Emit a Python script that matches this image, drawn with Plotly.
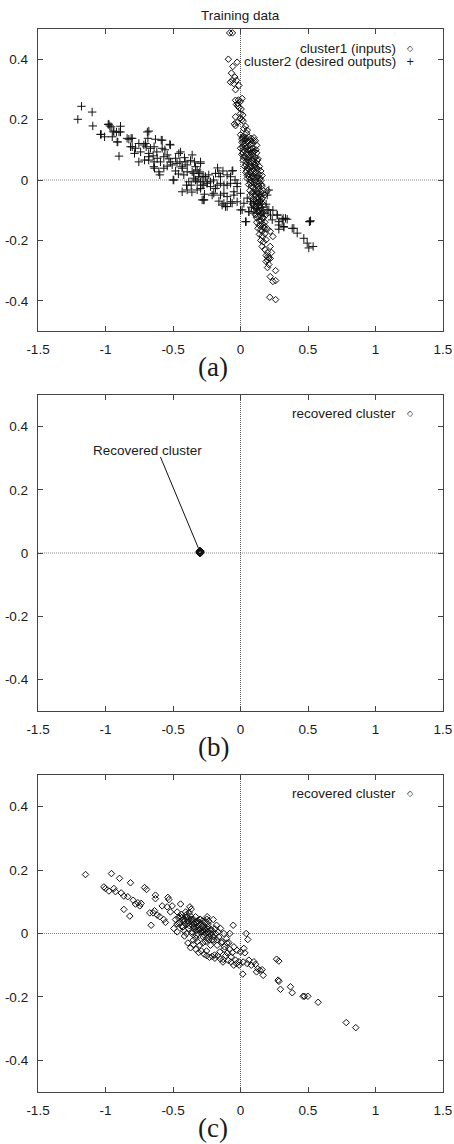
import plotly.graph_objects as go

# ---------------- data ----------------
x_tick_vals = [-1.5, -1, -0.5, 0, 0.5, 1, 1.5]
x_tick_text = ["-1.5", "-1", "-0.5", "0", "0.5", "1", "1.5"]
y_tick_vals = [-0.4, -0.2, 0, 0.2, 0.4]
y_tick_text = ["-0.4", "-0.2", "0", "0.2", "0.4"]

panel_titles = ["Training data", "", ""]
panel_labels = ["(a)", "(b)", "(c)"]

# panel (a) cluster1 (inputs)  -> diamonds
cluster1_pts = [
    (-0.08, 0.487), (-0.06, 0.487), (-0.09, 0.40), (-0.025, 0.39), (-0.057, 0.376),
    (-0.067, 0.354), (-0.042, 0.341), (-0.05, 0.319), (-0.012, 0.313), (-0.037, 0.299),
    (-0.074, 0.324), (-0.06, 0.33), (-0.03, 0.33), (-0.037, 0.264), (-0.02, 0.253),
    (0.012, 0.27), (-0.01, 0.239), (-0.03, 0.25), (0.0, 0.26), (-0.037, 0.209),
    (0.017, 0.215), (0.0, 0.22), (-0.037, 0.18), (-0.045, 0.186), (0.037, 0.178),
    (0.05, 0.165), (0.02, 0.195), (0.0, 0.205), (-0.02, 0.245), (0.005, 0.235),
    (-0.015, 0.265), (0.01, 0.2), (-0.025, 0.19), (0.025, 0.17), (0.045, 0.155),
    (0.0, 0.15), (0.02, 0.145), (0.04, 0.14), (0.06, 0.142), (0.08, 0.138), (0.1, 0.14),
    (0.11, 0.13), (0.01, 0.125), (0.03, 0.12), (0.05, 0.125), (0.07, 0.118), (0.09, 0.12),
    (0.12, 0.115), (0.0, 0.105), (0.02, 0.1), (0.04, 0.105), (0.06, 0.098), (0.08, 0.1),
    (0.1, 0.095), (0.12, 0.09), (0.01, 0.085), (0.03, 0.08), (0.05, 0.085), (0.07, 0.078),
    (0.09, 0.08), (0.11, 0.075), (0.13, 0.07), (0.02, 0.065), (0.04, 0.06), (0.06, 0.065),
    (0.08, 0.058), (0.1, 0.06), (0.12, 0.055), (0.03, 0.045), (0.05, 0.04), (0.07, 0.045),
    (0.09, 0.038), (0.11, 0.042), (0.13, 0.035), (0.15, 0.03),
    (0.04, 0.025), (0.06, 0.02), (0.08, 0.028), (0.1, 0.02), (0.12, 0.025), (0.14, 0.018),
    (0.16, 0.015), (0.05, 0.005), (0.07, 0.0), (0.09, 0.008), (0.11, 0.0), (0.13, 0.005),
    (0.15, -0.002), (0.06, -0.015), (0.08, -0.02), (0.1, -0.012), (0.12, -0.018),
    (0.14, -0.01), (0.16, -0.02), (0.17, -0.035), (0.2, -0.035),
    (0.07, -0.035), (0.09, -0.04), (0.11, -0.032), (0.13, -0.045), (0.15, -0.04),
    (0.18, -0.05), (0.08, -0.058), (0.1, -0.065), (0.12, -0.06), (0.14, -0.07),
    (0.16, -0.062), (0.09, -0.08), (0.11, -0.085), (0.13, -0.078), (0.15, -0.09),
    (0.17, -0.082), (0.1, -0.1), (0.12, -0.095), (0.14, -0.1),
    (0.11, -0.115), (0.13, -0.12), (0.15, -0.11), (0.17, -0.125), (0.19, -0.115),
    (0.12, -0.14), (0.14, -0.135), (0.16, -0.145), (0.18, -0.14), (0.13, -0.16),
    (0.15, -0.165), (0.17, -0.158), (0.2, -0.162), (0.22, -0.17), (0.14, -0.18),
    (0.16, -0.185), (0.18, -0.178), (0.24, -0.187), (0.15, -0.2), (0.17, -0.205),
    (0.19, -0.198),
    (0.16, -0.22), (0.22, -0.22), (0.18, -0.23), (0.2, -0.24), (0.19, -0.25),
    (0.2, -0.255), (0.21, -0.258), (0.22, -0.26), (0.2, -0.265), (0.19, -0.27),
    (0.23, -0.24), (0.2, -0.29), (0.21, -0.28), (0.26, -0.30), (0.22, -0.32),
    (0.24, -0.336), (0.26, -0.333), (0.217, -0.388), (0.26, -0.396),
    (0.01, 0.135), (0.03, 0.13), (0.05, 0.11), (0.07, 0.1), (0.09, 0.105), (0.02, 0.09),
    (0.06, 0.075), (0.1, 0.07), (0.04, 0.05), (0.08, 0.045), (0.12, 0.04), (0.06, 0.035),
    (0.1, 0.03), (0.14, 0.045), (0.05, 0.015), (0.09, -0.005), (0.13, -0.03), (0.11, -0.05),
    (0.15, -0.055), (0.12, -0.075), (0.14, -0.085), (0.16, -0.1), (0.12, -0.125),
    (0.16, -0.125), (0.14, -0.15), (0.18, -0.16), (0.16, -0.17),
    (0.015, 0.14), (0.035, 0.135), (0.055, 0.13), (0.075, 0.128), (0.095, 0.13),
    (0.015, 0.11), (0.035, 0.112), (0.055, 0.1), (0.075, 0.09), (0.095, 0.092),
    (0.115, 0.1), (0.025, 0.075), (0.045, 0.072), (0.065, 0.055), (0.085, 0.068),
    (0.105, 0.05), (0.125, 0.065), (0.045, 0.03), (0.065, 0.01), (0.085, 0.012),
    (0.105, 0.008), (0.125, 0.012), (0.145, 0.005), (0.075, -0.01), (0.095, -0.025),
    (0.115, -0.008), (0.135, -0.02), (0.155, -0.015), (0.085, -0.045), (0.105, -0.048),
    (0.125, -0.04), (0.145, -0.05), (0.165, -0.045), (0.095, -0.065), (0.115, -0.07),
    (0.135, -0.062), (0.155, -0.075), (0.105, -0.09), (0.125, -0.105), (0.145, -0.12),
    (0.135, -0.105), (0.155, -0.135), (0.175, -0.15), (0.165, -0.11),
]

# panel (a) cluster2 (desired outputs) -> plus signs
cluster2_pts = [
    (-1.205, 0.201), (-1.178, 0.244), (-1.099, 0.225), (-1.094, 0.179), (-1.037, 0.151),
    (-1.007, 0.143), (-0.98, 0.184), (-0.958, 0.176), (-0.938, 0.159), (-0.889, 0.178),
    (-0.9, 0.159), (-0.914, 0.126), (-0.9, 0.079), (-0.84, 0.138), (-0.802, 0.138),
    (-0.815, 0.11), (-0.778, 0.105), (-0.753, 0.06), (-0.74, 0.093), (-0.704, 0.121),
    (-0.69, 0.159), (-0.68, 0.088), (-0.68, 0.066), (-0.64, 0.06), (-0.64, 0.11),
    (-0.62, 0.093), (-0.637, 0.039), (-0.605, 0.027), (-0.58, 0.132), (-0.568, 0.077),
    (-0.543, 0.046), (-0.519, 0.116), (-0.519, 0.06), (-0.499, 0.0), (-0.481, 0.072),
    (-0.444, 0.093), (-0.432, 0.039), (-0.42, 0.017), (-0.395, 0.05), (-0.383, -0.006),
    (-0.358, 0.083), (-0.346, 0.022), (-0.321, 0.033), (-0.296, 0.055), (-0.284, 0.011),
    (-0.272, -0.017), (-0.235, 0.017), (-0.222, -0.006), (-0.185, -0.028), (-0.16, 0.022),
    (-0.148, -0.011), (-0.123, -0.044), (-0.099, -0.017), (-0.074, 0.011), (-0.057, 0.031),
    (-0.049, -0.039), (-0.025, -0.022),
    (-0.27, -0.066), (-0.136, -0.083), (-0.099, -0.088), (-0.062, -0.077), (0.0, -0.099),
    (0.042, -0.138), (0.062, -0.105), (0.099, -0.11), (0.198, -0.099), (0.222, -0.116),
    (0.272, -0.116), (0.284, -0.149), (0.309, -0.132), (0.333, -0.127), (0.321, -0.154),
    (0.395, -0.16), (0.42, -0.176), (0.469, -0.193), (0.494, -0.209), (0.506, -0.225),
    (0.538, -0.22), (0.519, -0.135), (0.51, -0.138),
    (-1.032, 0.151), (-0.975, 0.185), (-0.968, 0.179), (-0.943, 0.162), (-0.919, 0.159),
    (-0.889, 0.159), (-0.95, 0.143), (-0.909, 0.126), (-0.827, 0.135), (-0.81, 0.138),
    (-0.802, 0.11), (-0.785, 0.088), (-0.753, 0.121), (-0.716, 0.116), (-0.699, 0.11),
    (-0.679, 0.162), (-0.686, 0.138), (-0.667, 0.105), (-0.63, 0.135), (-0.711, 0.066),
    (-0.679, 0.077), (-0.647, 0.08), (-0.617, 0.072), (-0.593, 0.06), (-0.587, 0.132),
    (-0.58, 0.105), (-0.642, 0.044), (-0.598, 0.017), (-0.568, 0.039), (-0.543, 0.083),
    (-0.524, 0.118), (-0.506, 0.05), (-0.481, 0.03), (-0.494, 0.0), (-0.457, 0.088),
    (-0.449, 0.06), (-0.432, 0.044), (-0.415, 0.074), (-0.395, 0.027), (-0.4, -0.017),
    (-0.365, -0.017), (-0.346, 0.006), (-0.321, -0.006), (-0.358, 0.027), (-0.333, 0.044),
    (-0.301, 0.027), (-0.296, 0.06), (-0.309, 0.011), (-0.284, -0.017), (-0.259, 0.011),
    (-0.247, -0.006), (-0.432, -0.039), (-0.395, -0.033), (-0.267, -0.047),
    (-0.284, -0.066), (-0.321, -0.033), (-0.296, -0.028),
    (-0.309, 0.022), (-0.272, 0.011), (-0.333, 0.0), (-0.296, -0.006), (-0.247, -0.011),
    (-0.185, 0.022), (-0.148, 0.011), (-0.099, 0.017), (-0.062, 0.03), (-0.222, -0.022),
    (-0.173, -0.017), (-0.123, -0.017), (-0.074, -0.011), (-0.025, -0.011),
    (-0.198, -0.044), (-0.148, -0.05), (-0.099, -0.055), (-0.049, -0.05), (0.0, -0.044),
    (-0.272, -0.066), (-0.123, -0.077), (-0.074, -0.072), (-0.025, -0.072), (0.025, -0.077),
    (0.074, -0.072), (-0.111, -0.088), (0.012, -0.099), (0.062, -0.105), (0.037, -0.138),
    (0.099, -0.077), (0.123, -0.094), (0.148, -0.066), (0.173, -0.11), (0.198, -0.05),
    (0.21, -0.033), (0.21, -0.099), (0.235, -0.132), (0.272, -0.116), (0.284, -0.138),
    (0.316, -0.127), (0.346, -0.13), (0.284, -0.163), (0.321, -0.156), (0.383, -0.16),
    (0.514, -0.138),
    (-0.56, 0.1), (-0.53, 0.07), (-0.47, 0.055), (-0.46, 0.02), (-0.41, 0.06),
    (-0.37, 0.065), (-0.34, 0.06), (-0.36, -0.04), (-0.2, 0.0), (-0.17, 0.04),
    (-0.13, 0.03), (-0.21, -0.05), (-0.16, -0.07), (-0.04, 0.0), (0.05, -0.06),
    (0.08, -0.09), (0.13, -0.08), (0.16, -0.09), (0.19, -0.08), (0.24, -0.1),
]

# panel (b) recovered cluster (all points collapse to one spot)
recovered_b_pts = [
    (-0.300, 0.003), (-0.306, 0.004), (-0.294, 0.002), (-0.302, 0.008), (-0.298, -0.002),
    (-0.304, -0.001), (-0.296, 0.007), (-0.300, 0.000), (-0.301, 0.005), (-0.299, 0.001),
    (-0.303, 0.006), (-0.297, 0.004), (-0.305, 0.002), (-0.295, 0.005), (-0.300, 0.006),
    (-0.302, 0.001), (-0.298, 0.006), (-0.301, 0.003), (-0.299, 0.004), (-0.300, 0.002),
]

# panel (c) recovered cluster
recovered_c_pts = [
    (-1.148, 0.186), (-1.012, 0.147), (-1.0, 0.142), (-0.975, 0.134), (-0.956, 0.189),
    (-0.938, 0.142), (-0.926, 0.132), (-0.896, 0.174), (-0.884, 0.128), (-0.864, 0.118),
    (-0.864, 0.076), (-0.835, 0.116), (-0.815, 0.16), (-0.82, 0.055), (-0.795, 0.105),
    (-0.778, 0.093), (-0.76, 0.097), (-0.746, 0.087), (-0.736, 0.095), (-0.711, 0.145),
    (-0.696, 0.139), (-0.672, 0.065), (-0.662, 0.026), (-0.647, 0.065), (-0.637, 0.072),
    (-0.63, 0.121), (-0.63, 0.11), (-0.617, 0.058), (-0.598, 0.053), (-0.58, 0.087),
    (-0.568, 0.044), (-0.556, 0.035), (-0.543, 0.084), (-0.538, 0.114), (-0.531, 0.107),
    (-0.519, 0.068), (-0.506, 0.087), (-0.494, 0.016), (-0.481, 0.044), (-0.469, 0.068),
    (-0.469, 0.005), (-0.457, 0.032), (-0.444, 0.093), (-0.444, 0.053), (-0.432, 0.042),
    (-0.425, 0.021), (-0.415, -0.008), (-0.407, 0.068), (-0.4, 0.053), (-0.39, 0.032),
    (-0.383, 0.016), (-0.375, 0.084), (-0.37, 0.042), (-0.365, 0.077), (-0.358, 0.005),
    (-0.35, -0.021), (-0.346, 0.021), (-0.333, 0.053), (-0.326, -0.005), (-0.321, 0.034),
    (-0.309, 0.011), (-0.301, -0.037), (-0.296, 0.044), (-0.284, 0.023), (-0.277, -0.011),
    (-0.267, 0.005), (-0.259, -0.026), (-0.252, -0.055), (-0.247, 0.053), (-0.242, 0.021),
    (-0.235, 0.039), (-0.227, 0.0), (-0.222, -0.037), (-0.217, 0.013), (-0.202, 0.044),
    (-0.198, -0.021), (-0.193, -0.068), (-0.185, 0.0), (-0.178, 0.026), (-0.173, -0.037),
    (-0.16, -0.011), (-0.153, -0.058), (-0.148, 0.016), (-0.136, -0.026), (-0.128, -0.082),
    (-0.123, 0.0), (-0.119, -0.042), (-0.104, -0.016), (-0.099, -0.061), (-0.086, -0.029),
    (-0.079, 0.0), (-0.069, -0.074), (-0.054, 0.026), (-0.049, -0.042), (-0.037, -0.084),
    (-0.025, -0.053), (-0.012, -0.089), (0.0, -0.058), (0.017, -0.128), (0.025, -0.047),
    (0.032, -0.061), (0.042, 0.0), (0.054, -0.019), (0.062, -0.084), (0.099, -0.089),
    (0.111, -0.097), (0.119, -0.121), (0.128, -0.111), (0.143, -0.116), (0.16, -0.114),
    (0.168, -0.132), (0.267, -0.081), (0.284, -0.087), (0.279, -0.147), (0.284, -0.151),
    (0.296, -0.176), (0.37, -0.168), (0.383, -0.187), (0.464, -0.198), (0.474, -0.198),
    (0.499, -0.198), (0.575, -0.217), (0.783, -0.281), (0.854, -0.297),
    (-0.46, 0.05), (-0.44, 0.06), (-0.42, 0.045), (-0.41, 0.03), (-0.40, 0.06),
    (-0.39, 0.04), (-0.38, 0.025), (-0.37, 0.055), (-0.36, 0.035), (-0.35, 0.045),
    (-0.345, 0.015), (-0.34, 0.03), (-0.33, 0.02), (-0.32, 0.04), (-0.315, 0.0),
    (-0.31, 0.025), (-0.30, 0.015), (-0.29, 0.03), (-0.285, 0.005), (-0.28, 0.02),
    (-0.27, -0.005), (-0.265, 0.015), (-0.255, 0.01), (-0.25, -0.015), (-0.24, 0.005),
    (-0.23, -0.01), (-0.22, 0.01), (-0.21, -0.02), (-0.43, 0.02), (-0.45, 0.035),
    (-0.47, 0.03), (-0.36, 0.0), (-0.33, -0.015), (-0.38, 0.065), (-0.30, 0.045),
    (-0.26, 0.035), (-0.24, 0.03),
    (-0.39, -0.03), (-0.37, -0.045), (-0.35, -0.035), (-0.33, -0.05), (-0.31, -0.06),
    (-0.29, -0.055), (-0.27, -0.065), (-0.25, -0.07), (-0.23, -0.075), (-0.21, -0.072),
    (-0.19, -0.078), (-0.17, -0.07),
    (-0.15, -0.08), (-0.13, -0.09), (-0.11, -0.07), (-0.09, -0.085), (-0.07, -0.09),
    (-0.05, -0.1), (-0.03, -0.095), (-0.01, -0.1), (0.02, -0.09), (0.05, -0.095),
    (0.08, -0.1),
    (-0.435, 0.05), (-0.415, 0.04), (-0.395, 0.05), (-0.385, 0.035), (-0.365, 0.045),
    (-0.355, 0.025), (-0.335, 0.035), (-0.325, 0.01), (-0.305, 0.035), (-0.295, 0.005),
    (-0.275, 0.01), (-0.26, 0.0), (-0.245, 0.015), (-0.235, -0.02), (-0.215, 0.0),
    (-0.2, -0.01), (-0.19, 0.015), (-0.175, -0.02), (-0.165, 0.005), (-0.14, -0.03),
    (-0.12, -0.05), (-0.1, -0.03), (-0.08, -0.05), (-0.06, -0.06), (-0.4, 0.0),
    (-0.42, 0.01), (-0.28, 0.04), (-0.25, 0.045), (-0.32, -0.025), (-0.28, -0.03),
]

annotation_text = "Recovered cluster"

# ---------------- layout helpers ----------------
W, H = 454, 1144
PLOT_L, PLOT_R = 38, 443
panels_px = [(29, 331), (395, 711), (775, 1092)]   # top, bottom (pixels)

def px_x(p):
    return p / W

def px_y(p):
    return 1 - p / H

FONT = "Liberation Sans, Arial, Helvetica, sans-serif"
TXT = "#1a1a1a"
FRAME = "#444444"

fig = go.Figure()

diamond = dict(symbol="diamond-open", size=5, color="#111111", line=dict(width=1, color="#111111"))
plus = dict(symbol="cross-thin-open", size=6, color="#111111", line=dict(width=1, color="#111111"))

fig.add_trace(go.Scatter(
    x=[p[0] for p in cluster1_pts], y=[p[1] for p in cluster1_pts],
    mode="markers", marker=diamond, name="cluster1 (inputs)", xaxis="x", yaxis="y"))
fig.add_trace(go.Scatter(
    x=[p[0] for p in cluster2_pts], y=[p[1] for p in cluster2_pts],
    mode="markers", marker=plus, name="cluster2 (desired outputs)", xaxis="x", yaxis="y"))
fig.add_trace(go.Scatter(
    x=[p[0] for p in recovered_b_pts], y=[p[1] for p in recovered_b_pts],
    mode="markers", marker=diamond, name="recovered cluster", xaxis="x2", yaxis="y2"))
fig.add_trace(go.Scatter(
    x=[p[0] for p in recovered_c_pts], y=[p[1] for p in recovered_c_pts],
    mode="markers", marker=diamond, name="recovered cluster", xaxis="x3", yaxis="y3"))

axis_common = dict(
    showline=True, linecolor=FRAME, linewidth=1.3, mirror="allticks",
    ticks="inside", ticklen=5, tickwidth=1, tickcolor=FRAME,
    showgrid=False, zeroline=False, automargin=False,
    tickfont=dict(family=FONT, size=13.5, color=TXT),
    ticklabelstandoff=6,
)

layout = dict(
    width=W, height=H, autosize=False,
    margin=dict(l=0, r=0, t=0, b=0, pad=0),
    paper_bgcolor="white", plot_bgcolor="white",
    showlegend=False,
)

shapes = []
annotations = []
for i, (top, bot) in enumerate(panels_px):
    sx = "" if i == 0 else str(i + 1)
    layout["xaxis" + sx] = dict(
        axis_common, domain=[px_x(PLOT_L), px_x(PLOT_R)], range=[-1.5, 1.5],
        tickvals=x_tick_vals, ticktext=x_tick_text, anchor="y" + sx)
    layout["yaxis" + sx] = dict(
        axis_common, domain=[px_y(bot), px_y(top)], range=[-0.5, 0.5],
        tickvals=y_tick_vals, ticktext=y_tick_text, anchor="x" + sx)
    # dotted zero axes
    shapes.append(dict(type="line", xref="x" + sx, yref="y" + sx, x0=-1.5, x1=1.5, y0=0, y1=0,
                       line=dict(color="#888888", width=1, dash="1px,1px"), layer="below"))
    shapes.append(dict(type="line", xref="x" + sx, yref="y" + sx, x0=0, x1=0, y0=-0.5, y1=0.5,
                       line=dict(color="#555555", width=1, dash="1px,1px"), layer="below"))
    # panel label (a)/(b)/(c)
    annotations.append(dict(
        text=panel_labels[i], xref="paper", yref="paper", x=px_x(213), y=px_y(bot + 36),
        xanchor="center", yanchor="middle", showarrow=False,
        font=dict(family="Liberation Serif, DejaVu Serif, serif", size=27, color=TXT)))
    if panel_titles[i]:
        annotations.append(dict(
            text=panel_titles[i], xref="paper", yref="paper", x=px_x(240), y=px_y(15),
            xanchor="center", yanchor="middle", showarrow=False,
            font=dict(family=FONT, size=13.5, color=TXT)))

# legends (gnuplot style: text right-aligned, symbol on the right)
legend_rows = [
    (0, "cluster1 (inputs)", "◇", 48),
    (0, "cluster2 (desired outputs)", "+", 62),
    (1, "recovered cluster", "◇", 413),
    (2, "recovered cluster", "◇", 793),
]
for _, label, sym, ypx in legend_rows:
    annotations.append(dict(
        text=label, xref="paper", yref="paper", x=px_x(398), y=px_y(ypx),
        xanchor="right", yanchor="middle", showarrow=False,
        font=dict(family=FONT, size=13.5, color=TXT)))
    annotations.append(dict(
        text=sym, xref="paper", yref="paper", x=px_x(410), y=px_y(ypx),
        xanchor="center", yanchor="middle", showarrow=False,
        font=dict(family="DejaVu Sans", size=8 if sym == "◇" else 10, color="#111111")))

# annotation in panel (b)
annotations.append(dict(
    text=annotation_text, xref="x2", yref="y2", x=-0.69, y=0.323,
    xanchor="center", yanchor="middle", showarrow=False,
    font=dict(family=FONT, size=13.5, color=TXT)))
shapes.append(dict(type="line", xref="x2", yref="y2", x0=-0.593, y0=0.304, x1=-0.3, y1=0.003,
                   line=dict(color="#111111", width=1)))

layout["shapes"] = shapes
layout["annotations"] = annotations
fig.update_layout(**layout)

fig.write_html("out.html", config={"displayModeBar": False},
               post_script="document.body.style.margin='0px';")
